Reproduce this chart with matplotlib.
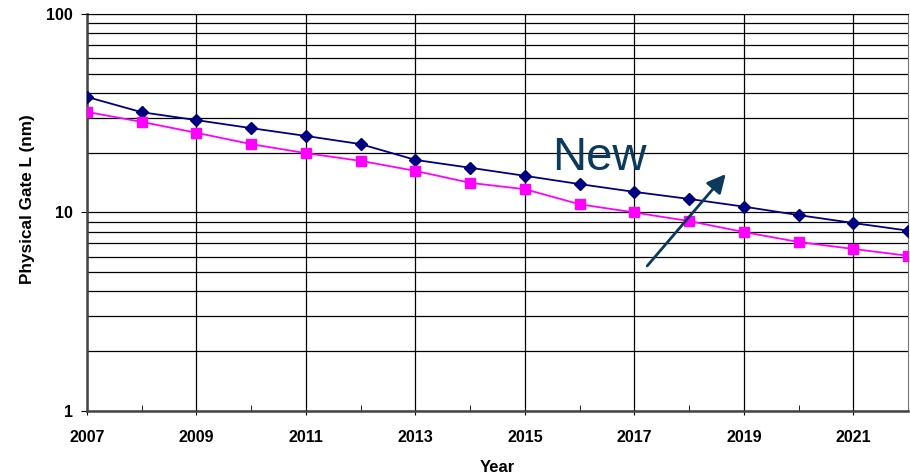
import matplotlib.pyplot as plt
from matplotlib.ticker import FixedLocator, NullFormatter

plt.rcParams["font.family"] = ["Liberation Sans", "DejaVu Sans"]

years = list(range(2007, 2023))
gate_old = [38.2, 32.0, 29.2, 26.6, 24.3, 22.1, 18.4, 16.8,
            15.3, 13.9, 12.7, 11.7, 10.7, 9.7, 8.85, 8.1]
gate_new = [32.1, 28.6, 25.2, 22.1, 19.9, 18.2, 16.2, 14.1,
            13.1, 11.0, 10.0, 9.05, 7.97, 7.1, 6.55, 6.05]
year_ticks = list(range(2007, 2022, 2))
y_ticks = [1, 10, 100]
y_labels = ["1", "10", "100"]


fig = plt.figure(figsize=(9.1, 4.76), dpi=100)
ax = fig.add_axes([0.0956, 0.1366, 0.9024, 0.834])

ax.plot(years, gate_old, color="#000080", lw=1.3, marker="D",
        markersize=6, zorder=3)
ax.plot(years, gate_new, color="#ff00ff", lw=1.3, marker="s",
        markersize=6.5, zorder=3)

ax.set_yscale("log")
ax.set_ylim(1, 100)
ax.set_xlim(2007, 2022)

ax.set_xticks(year_ticks)
ax.xaxis.set_minor_locator(FixedLocator(range(2008, 2023, 2)))
ax.set_yticks(y_ticks)
ax.set_yticklabels(y_labels)
ax.yaxis.set_minor_formatter(NullFormatter())

ax.grid(True, which="major", axis="x", color="black", lw=0.9)
ax.grid(True, which="both", axis="y", color="black", lw=0.9)
ax.tick_params(axis="y", which="minor", length=0)
ax.tick_params(axis="x", which="minor", direction="in", length=4)
ax.tick_params(axis="x", which="major", length=3, labelsize=11.5, pad=11)
ax.tick_params(axis="y", which="major", length=4, labelsize=11.5, pad=6)
for lab in ax.get_xticklabels() + ax.get_yticklabels():
    lab.set_fontweight("bold")

for side in ["left", "bottom"]:
    ax.spines[side].set_linewidth(1.8)
    ax.spines[side].set_color("#444444")
ax.spines["right"].set_color("#777777")
ax.spines["top"].set_color("black")

ax.set_xlabel("Year", fontsize=12, fontweight="bold", va="center")
ax.xaxis.set_label_coords(0.5, -0.142)
ax.set_ylabel("Physical Gate L (nm)", fontsize=12.3, fontweight="bold",
              va="center")
ax.yaxis.set_label_coords(-0.073, 0.534)

ax.text(2015.5, 16.4, "New", fontsize=34, color="#0b3a5c",
        ha="left", va="baseline")
ax.annotate("", xy=(2018.7, 16.0), xytext=(2017.2, 5.25),
            arrowprops=dict(arrowstyle="-|>", color="#0b3a5c", lw=2,
                            mutation_scale=28))

fig.savefig("out.png", dpi=100)
plt.close(fig)
